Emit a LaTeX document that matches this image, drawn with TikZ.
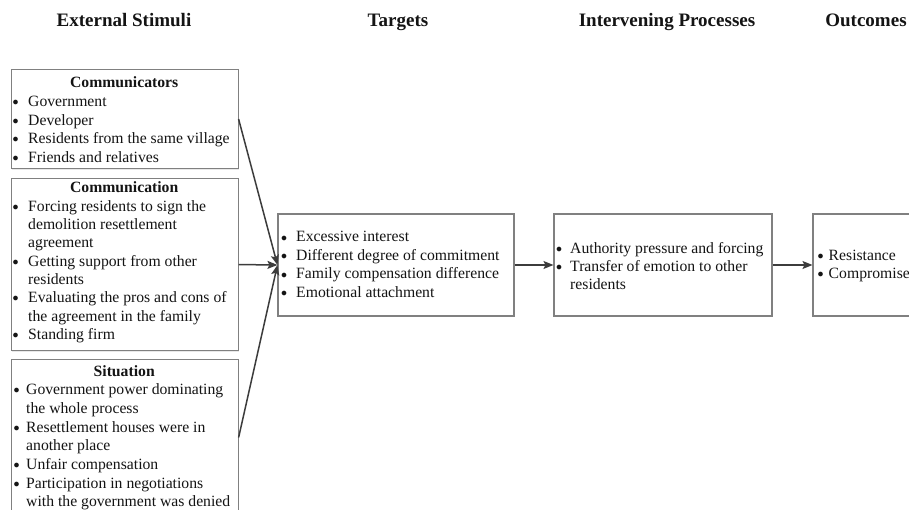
\documentclass[tikz,border=0pt]{standalone}
\usepackage{fontspec}
\setmainfont{Liberation Serif}
\usetikzlibrary{arrows.meta,shadows}
\definecolor{boxgray}{RGB}{128,128,128}
\definecolor{ink}{RGB}{20,20,20}
\definecolor{arrgray}{RGB}{60,60,60}
\newlength{\bw}
\newcommand{\B}{\makebox[\bw][l]{\raisebox{0.9pt}{\fontsize{12}{12}\selectfont$\bullet$}}}
\newcommand{\ttl}[2]{\multicolumn{2}{@{}c@{}}{\makebox[#1][c]{\bfseries #2}}}
\begin{document}
\begin{tikzpicture}[x=1pt,y=-1pt,
  box/.style={draw=boxgray,line width=1.1pt,fill=white,rectangle,inner sep=0pt,
    drop shadow={shadow xshift=1.2pt,shadow yshift=-1.2pt,opacity=0.18}},
  txt/.style={inner sep=0pt,font=\fontsize{15.7}{#1}\selectfont,text=ink,anchor=base west},
  head/.style={font=\fontsize{19}{22}\selectfont\bfseries,anchor=base,text=ink},
  arr/.style={draw=arrgray,line width=1.5pt,-{Stealth[length=10pt,width=8pt,inset=2pt]}}]
\useasboundingbox (0,0) rectangle (909,510);
\clip (0,0) rectangle (909,510);
\fill[white] (0,0) rectangle (909,510);

% headings
\node[head] (h1) at (124,27) {External Stimuli};
\node[head] (h2) at (398,27) {Targets};
\node[head] (h3) at (667,27) {Intervening Processes};
\node[head] (h4) at (866,27) {Outcomes};

% boxes
\node[box,minimum width=227pt,minimum height=99pt,anchor=north west] (c1) at (10.5,69) {};
\node[box,minimum width=227pt,minimum height=172pt,anchor=north west] (c2) at (10.5,178) {};
\node[box,minimum width=227pt,minimum height=156pt,anchor=north west] (c3) at (10.5,359) {};
\node[box,minimum width=236pt,minimum height=102pt] (tg) at (396,265) {};
\node[box,minimum width=218pt,minimum height=102pt] (ip) at (663,265) {};
\node[box,minimum width=200pt,minimum height=102pt] (oc) at (913,265) {};

% texts
\node[txt=18.7] (c1t) at (12.5,87.7) {\setlength{\bw}{15.5pt}%
  \begin{tabular}[t]{@{}l@{}l@{}}
  \ttl{223pt}{Communicators}\\
  \B & Government\\
  \B & Developer\\
  \B & Residents from the same village\\
  \B & Friends and relatives
  \end{tabular}};

\node[txt=18.3] (c2t) at (12.5,193) {\setlength{\bw}{15.5pt}%
  \begin{tabular}[t]{@{}l@{}l@{}}
  \ttl{223pt}{Communication}\\
  \B & Forcing residents to sign the\\
     & demolition resettlement\\
     & agreement\\
  \B & Getting support from other\\
     & residents\\
  \B & Evaluating the pros and cons of\\
     & the agreement in the family\\
  \B & Standing firm
  \end{tabular}};

\node[txt=18.7] (c3t) at (13.5,376) {\setlength{\bw}{12.5pt}%
  \begin{tabular}[t]{@{}l@{}l@{}}
  \ttl{221pt}{Situation}\\
  \B & Government power dominating\\
     & the whole process\\
  \B & Resettlement houses were in\\
     & another place\\
  \B & Unfair compensation\\
  \B & Participation in negotiations\\
     & with the government was denied
  \end{tabular}};

\node[txt=18.5] (tgt) at (281,242) {\setlength{\bw}{15pt}%
  \begin{tabular}[t]{@{}l@{}l@{}}
  \B & Excessive interest\\
  \B & Different degree of commitment\\
  \B & Family compensation difference\\
  \B & Emotional attachment
  \end{tabular}};

\node[txt=18] (ipt) at (556,253.5) {\setlength{\bw}{14pt}%
  \begin{tabular}[t]{@{}l@{}l@{}}
  \B & Authority pressure and forcing\\
  \B & Transfer of emotion to other\\
     & residents
  \end{tabular}};

\node[txt=18] (oct) at (817.5,260.5) {\setlength{\bw}{11pt}%
  \begin{tabular}[t]{@{}l@{}l@{}}
  \B & Resistance\\
  \B & Compromise
  \end{tabular}};

% connectors
\draw[arr] (c1.east) -- (tg.west);
\draw[arr] (c2.east) -- (tg.west);
\draw[arr] (c3.east) -- (tg.west);
\draw[arr] (tg.east) -- (ip.west);
\draw[arr] (ip.east) -- (oc.west);
\end{tikzpicture}
\end{document}
